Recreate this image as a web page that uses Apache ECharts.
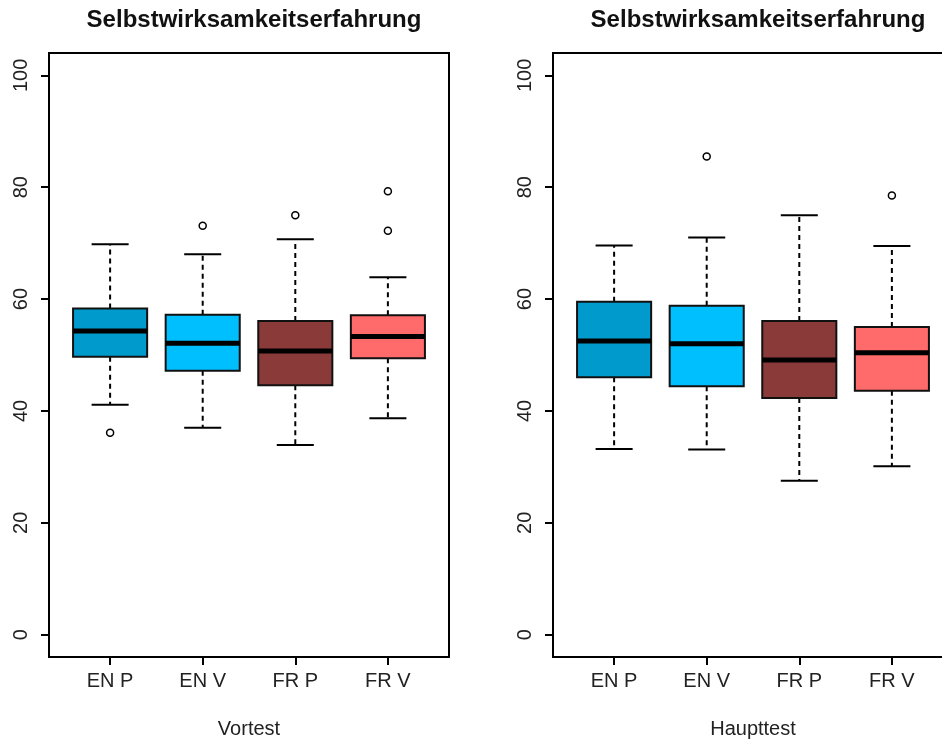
<!DOCTYPE html>
<html>
<head>
<meta charset="utf-8">
<title>Selbstwirksamkeitserfahrung</title>
<script src="https://cdn.jsdelivr.net/npm/echarts@6/dist/echarts.min.js"></script>
<style>
  html, body { margin: 0; padding: 0; background: #fff; }
  #chart { width: 942px; height: 744px; }
</style>
</head>
<body>
<div id="chart"></div>
<script>
const categories = ["EN P", "EN V", "FR P", "FR V"];
const yTicks = [0, 20, 40, 60, 80, 100];

// [min, Q1, median, Q3, max]
const vortestBoxes = [
  [41.1, 49.7, 54.3, 58.3, 69.8],
  [37.0, 47.2, 52.1, 57.2, 68.0],
  [33.9, 44.6, 50.7, 56.1, 70.7],
  [38.7, 49.4, 53.3, 57.1, 63.9],
];
const vortestOutliers = [[1, 36.1], [2, 73.1], [3, 75.0], [4, 79.3], [4, 72.2]];

const haupttestBoxes = [
  [33.2, 46.0, 52.5, 59.5, 69.6],
  [33.1, 44.4, 52.0, 58.8, 71.0],
  [27.5, 42.3, 49.1, 56.1, 75.0],
  [30.1, 43.6, 50.4, 55.0, 69.5],
];
const haupttestOutliers = [[2, 85.5], [4, 78.5]];

const boxColors = ["#009ACD", "#00BFFF", "#8B3A3A", "#FF6A6A"];
const font = "Liberation Sans, Arial, sans-serif";

const chart = echarts.init(document.getElementById("chart"));

// box + dashed whiskers + caps, drawn through the axis scales
function renderBox(params, api) {
  const x = api.value(0);
  const lo = api.coord([x, api.value(1)]);
  const q1 = api.coord([x, api.value(2)]);
  const med = api.coord([x, api.value(3)]);
  const q3 = api.coord([x, api.value(4)]);
  const hi = api.coord([x, api.value(5)]);
  const half = api.size([0.8, 0])[0] / 2;
  const cap = half / 2;
  const cx = q1[0];
  const dashed = { stroke: "#000", lineWidth: 2, lineDash: [5, 4] };
  const solid = { stroke: "#000", lineWidth: 2 };
  return {
    type: "group",
    children: [
      { type: "line", shape: { x1: cx, y1: q3[1], x2: cx, y2: hi[1] }, style: dashed },
      { type: "line", shape: { x1: cx, y1: q1[1], x2: cx, y2: lo[1] }, style: dashed },
      { type: "line", shape: { x1: cx - cap, y1: hi[1], x2: cx + cap, y2: hi[1] }, style: solid },
      { type: "line", shape: { x1: cx - cap, y1: lo[1], x2: cx + cap, y2: lo[1] }, style: solid },
      {
        type: "rect",
        shape: { x: cx - half, y: q3[1], width: half * 2, height: q1[1] - q3[1] },
        style: { fill: boxColors[params.dataIndex], stroke: "#111", lineWidth: 2 },
      },
      {
        type: "line",
        shape: { x1: cx - half, y1: med[1], x2: cx + half, y2: med[1] },
        style: { stroke: "#000", lineWidth: 5 },
      },
    ],
  };
}

function xAxisFor(gridIndex, name) {
  return {
    gridIndex: gridIndex,
    type: "value",
    min: 0.34,
    max: 4.66,
    name: name,
    nameLocation: "middle",
    nameGap: 62,
    nameTextStyle: { fontFamily: font, fontSize: 20, color: "#222" },
    axisLine: { show: true, onZero: false, lineStyle: { color: "#000", width: 2 } },
    axisTick: { show: true, customValues: [1, 2, 3, 4], length: 8, lineStyle: { color: "#000", width: 2 } },
    axisLabel: {
      customValues: [1, 2, 3, 4],
      margin: 14,
      fontFamily: font,
      fontSize: 20,
      color: "#222",
      formatter: (v) => categories[Math.round(v) - 1],
    },
    splitLine: { show: false },
  };
}

function yAxisFor(gridIndex) {
  return {
    gridIndex: gridIndex,
    type: "value",
    min: -4,
    max: 104,
    axisLine: { show: true, onZero: false, lineStyle: { color: "#000", width: 2 } },
    axisTick: { show: true, customValues: yTicks, length: 8, lineStyle: { color: "#000", width: 2 } },
    axisLabel: {
      customValues: yTicks,
      rotate: 90,
      margin: 18,
      fontFamily: font,
      fontSize: 20,
      color: "#222",
    },
    splitLine: { show: false },
  };
}

function outlierSeries(idx, data) {
  return {
    type: "scatter",
    xAxisIndex: idx,
    yAxisIndex: idx,
    symbol: "circle",
    symbolSize: 7,
    itemStyle: { color: "#fff", borderColor: "#000", borderWidth: 1.5, opacity: 1 },
    data: data,
    z: 5,
  };
}

const option = {
  animation: false,
  backgroundColor: "#fff",
  title: [
    {
      text: "Selbstwirksamkeitserfahrung",
      left: 249,
      top: 3,
      textAlign: "center",
      textStyle: { fontFamily: font, fontSize: 24, fontWeight: "bold", color: "#111" },
    },
    {
      text: "Selbstwirksamkeitserfahrung",
      left: 753,
      top: 3,
      textAlign: "center",
      textStyle: { fontFamily: font, fontSize: 24, fontWeight: "bold", color: "#111" },
    },
  ],
  grid: [
    { left: 49, top: 53, width: 400, height: 604, outerBoundsMode: "none", show: true, borderColor: "#000", borderWidth: 2 },
    { left: 553, top: 53, width: 400, height: 604, outerBoundsMode: "none", show: true, borderColor: "#000", borderWidth: 2 },
  ],
  xAxis: [xAxisFor(0, "Vortest"), xAxisFor(1, "Haupttest")],
  yAxis: [yAxisFor(0), yAxisFor(1)],
  series: [
    {
      type: "custom",
      xAxisIndex: 0,
      yAxisIndex: 0,
      renderItem: renderBox,
      data: vortestBoxes.map((b, i) => [i + 1].concat(b)),
    },
    outlierSeries(0, vortestOutliers),
    {
      type: "custom",
      xAxisIndex: 1,
      yAxisIndex: 1,
      renderItem: renderBox,
      data: haupttestBoxes.map((b, i) => [i + 1].concat(b)),
    },
    outlierSeries(1, haupttestOutliers),
  ],
};

chart.setOption(option);
</script>
</body>
</html>
